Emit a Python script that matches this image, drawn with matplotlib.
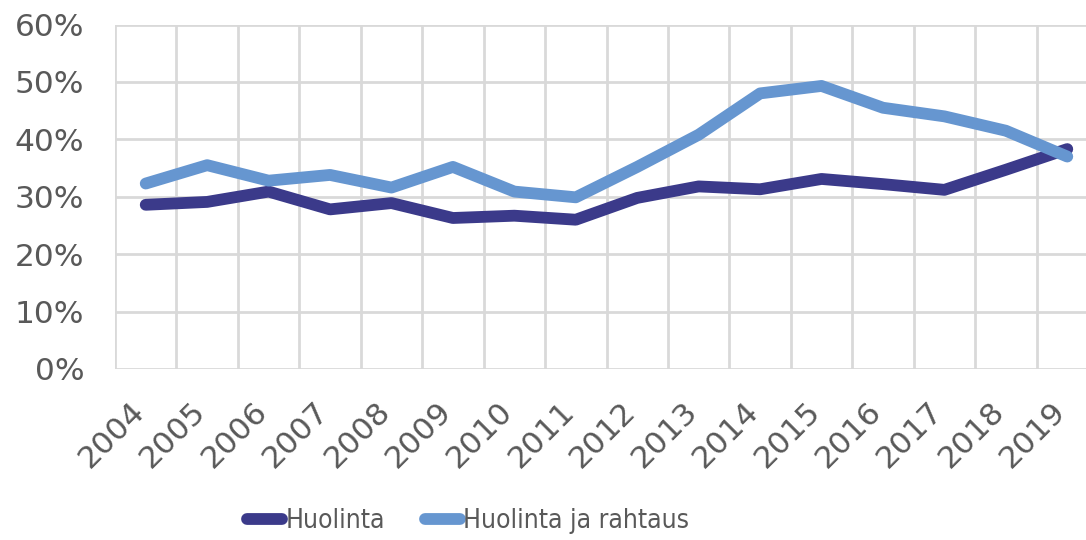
import matplotlib
matplotlib.use("Agg")
from matplotlib import pyplot as plt
from matplotlib.ticker import FuncFormatter
from matplotlib.transforms import ScaledTranslation

years = [str(y) for y in range(2004, 2020)]
huolinta = [28.6, 29.1, 30.9, 27.8, 28.9, 26.3, 26.7, 26.0,
            29.8, 31.8, 31.3, 33.1, 32.2, 31.2, 34.7, 38.3]
huolinta_rahtaus = [32.3, 35.5, 32.8, 33.8, 31.6, 35.2, 30.9, 29.9,
                    35.2, 40.8, 48.0, 49.3, 45.5, 44.0, 41.5, 37.0]

text_col = '#595959'
grid_col = '#d9d9d9'

fig = plt.figure(figsize=(10.86, 5.40), dpi=100)
# plot area runs past the right edge, like the cropped original
ax = fig.add_axes([115/1086, 1 - 369/540, (1098 - 115)/1086, (369 - 24.5)/540])

x = list(range(len(years)))
ax.plot(x, huolinta, color='#3b3a8a', lw=8.5, solid_capstyle='round',
        solid_joinstyle='round', label='Huolinta')
ax.plot(x, huolinta_rahtaus, color='#6696d0', lw=8.5, solid_capstyle='round',
        solid_joinstyle='round', label='Huolinta ja rahtaus')

ax.set_xlim(-0.5, len(years) - 0.5)
ax.set_ylim(0, 60)
ax.set_yticks(range(0, 61, 10))
ax.yaxis.set_major_formatter(FuncFormatter(lambda v, p: f'{v:.0f}%'))
ax.set_xticks(x)
ax.set_xticklabels(years, rotation=45, ha='right', va='center',
                   rotation_mode='anchor')
ax.set_xticks([i - 0.5 for i in range(len(years) + 1)], minor=True)

ax.grid(True, axis='y', which='major', color=grid_col, lw=2)
ax.grid(True, axis='x', which='minor', color=grid_col, lw=2)
ax.set_axisbelow(True)
for s in ax.spines.values():
    s.set_visible(False)
ax.tick_params(which='both', length=0)
ax.tick_params(axis='y', pad=22, labelsize=22.5, labelcolor=text_col)
ax.tick_params(axis='x', pad=27, labelsize=22.5, labelcolor=text_col)

# nudge year labels a little to the left
shift = ScaledTranslation(-6/100, 0, fig.dpi_scale_trans)
for lbl in ax.get_xticklabels():
    lbl.set_transform(lbl.get_transform() + shift)

leg = fig.legend(loc='center', bbox_to_anchor=(468/1086, 1 - 521/540), ncol=2,
                 frameon=False, handlelength=1.35,
                 handletextpad=0.12, columnspacing=1.5,
                 prop={'stretch': 'condensed', 'size': 19})
for t in leg.get_texts():
    t.set_color(text_col)

fig.savefig('out.png', dpi=100)
